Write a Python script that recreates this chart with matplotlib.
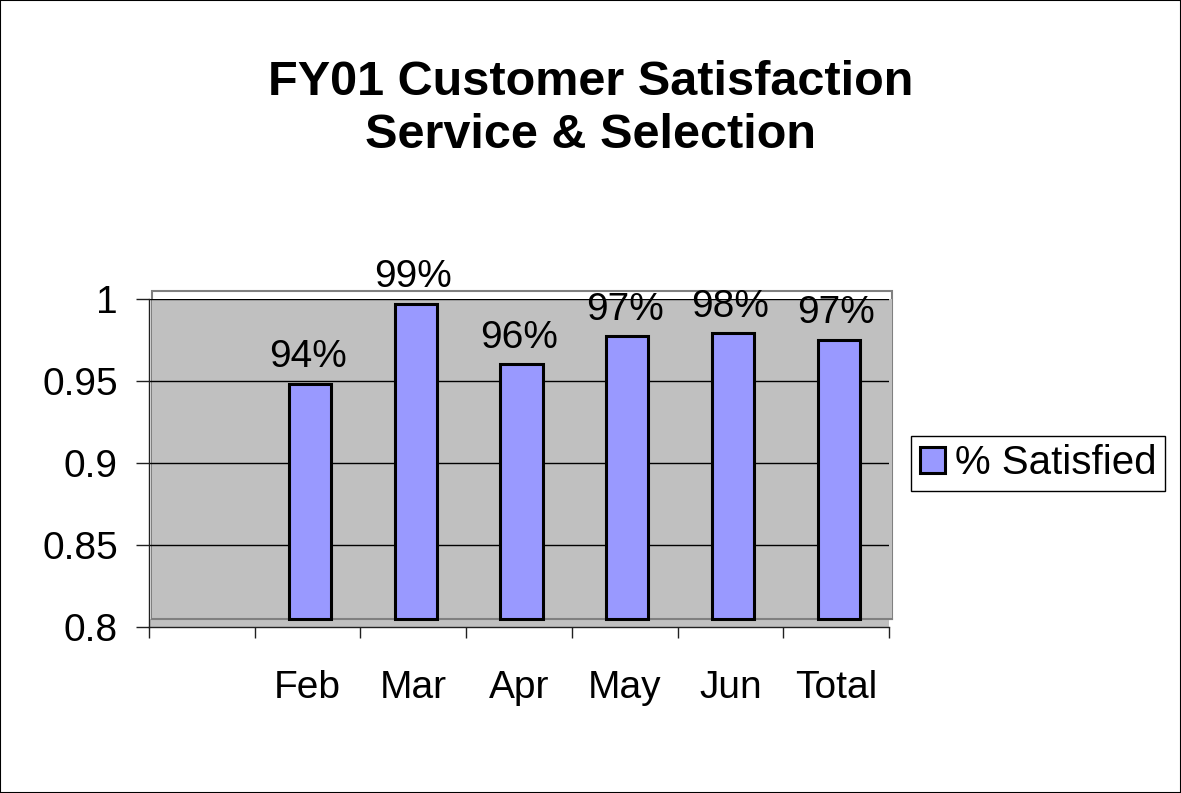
import numpy as np
import matplotlib
matplotlib.use("Agg")
import matplotlib.pyplot as plt
from matplotlib.patches import Rectangle
from matplotlib.transforms import ScaledTranslation

plt.rcParams['font.family'] = ['Liberation Sans', 'DejaVu Sans']

# data (first category slot is empty)
categories = ['', 'Feb', 'Mar', 'Apr', 'May', 'Jun', 'Total']
satisfied = [np.nan, 0.943, 0.992, 0.955, 0.972, 0.974, 0.970]
labels = ['', '94%', '99%', '96%', '97%', '98%', '97%']
yticks = [0.8, 0.85, 0.9, 0.95, 1.0]
ytick_labels = ['0.8', '0.85', '0.9', '0.95', '1']

W, H, DPI = 1181, 793, 100
fig = plt.figure(figsize=(W / DPI, H / DPI), dpi=DPI)
fig.patch.set_facecolor('white')
fig.add_artist(Rectangle((0, 0), 1, 1, transform=fig.transFigure,
                         fill=False, edgecolor='black', linewidth=1.5))

# axes box in pixels: x 149..889, y 299..627 (from top)
ax = fig.add_axes([149 / W, (H - 627) / H, 740 / W, 328 / H])
ax.set_facecolor('none')

# excel style depth offset of the back wall and the bars
dx, dy = 2.5, 8.5
shift = ScaledTranslation(dx / DPI, dy / DPI, fig.dpi_scale_trans)
ax_h = 328.0

# frame of the wall
ax.add_patch(Rectangle((0, 0), 1, 1, transform=ax.transAxes + shift,
                       facecolor='white', edgecolor='#808080',
                       linewidth=1.5, zorder=0.1, clip_on=False))
# grey wall fill (top at 1.0 line)
ax.add_patch(Rectangle((0, 0), 1, 1 - dy / ax_h, transform=ax.transAxes + shift,
                       facecolor='#C0C0C0', edgecolor='none',
                       zorder=0.2, clip_on=False))
# floor
ax.add_patch(Rectangle((0, 0), 1, dy / ax_h, transform=ax.transAxes,
                       facecolor='#C0C0C0', edgecolor='none',
                       zorder=0.2, clip_on=False))
# bottom edge of wall
ax.plot([0, 1], [0, 0], transform=ax.transAxes + shift, color='#808080',
        linewidth=1.5, zorder=0.3, clip_on=False)

x = np.arange(1, len(categories) + 1)
ax.set_xlim(0.5, len(categories) + 0.5)
ax.set_ylim(0.8, 1.0)

for yv in yticks[1:]:
    ax.plot([0, 1], [yv, yv], transform=ax.get_yaxis_transform(),
            color='black', linewidth=1, zorder=0.5)

base = 0.8
heights = [v - base for v in satisfied]
ax.bar(x, heights, bottom=base, width=0.4, color='#9999FF',
       edgecolor='black', linewidth=2.2, zorder=2,
       transform=ax.transData + shift, label='% Satisfied', clip_on=False)

for xi, v, lab in zip(x, satisfied, labels):
    if np.isnan(v):
        continue
    ax.annotate(lab, (xi, v), xytext=(0, 18), textcoords='offset points',
                ha='center', va='baseline', fontsize=28, zorder=3)

# axes styling
for s in ['top', 'right']:
    ax.spines[s].set_visible(False)
for s in ['left', 'bottom']:
    ax.spines[s].set_color('#202020')
    ax.spines[s].set_linewidth(1)
    ax.spines[s].set_zorder(1)

ax.set_yticks(yticks)
ax.set_yticklabels(ytick_labels)
ax.tick_params(axis='y', direction='out', length=9.4, width=1, pad=13,
               labelsize=28, color='#202020')

ax.set_xticks(x)
ax.set_xticklabels(categories)
ax.set_xticks(np.arange(0.5, len(categories) + 1), minor=True)
ax.tick_params(axis='x', which='major', length=0, pad=31, labelsize=28)
ax.tick_params(axis='x', which='minor', direction='out', length=8, width=1,
               color='#202020')

fig.text(0.5, (H - 109) / H, 'FY01 Customer Satisfaction\nService & Selection',
         ha='center', va='center', fontsize=35, fontweight='bold',
         linespacing=1.25)

fig.legend(loc='center left', bbox_to_anchor=(911 / W, (H - 463.5) / H),
           borderaxespad=0, fontsize=29, frameon=True, fancybox=False,
           edgecolor='black', framealpha=1, borderpad=0.22,
           handlelength=0.62, handleheight=0.62, handletextpad=0.25)
fig.legends[0].get_frame().set_linewidth(1)

fig.savefig('out.png', dpi=DPI)
